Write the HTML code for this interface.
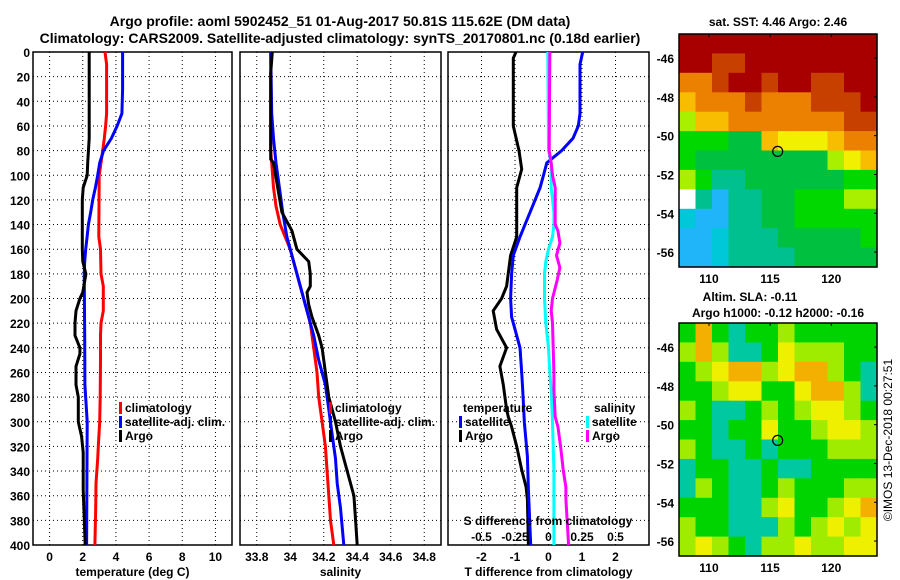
<!DOCTYPE html>
<html><head><meta charset="utf-8">
<style>
html,body{margin:0;padding:0;background:#fff;}
svg{display:block;font-family:"Liberation Sans",Arial,sans-serif;font-weight:bold;}
</style></head>
<body>
<svg id="fig" width="900" height="580" viewBox="0 0 900 580" xmlns="http://www.w3.org/2000/svg">
<rect width="900" height="580" fill="#fff"/>
<text x="340" y="26" font-size="14" text-anchor="middle">Argo profile: aoml 5902452_51 01-Aug-2017 50.81S 115.62E (DM data)</text>
<text x="340" y="43" font-size="14" text-anchor="middle">Climatology: CARS2009. Satellite-adjusted climatology: synTS_20170801.nc (0.18d earlier)</text>
<g id="panels"></g>
<g id="maps"></g>
<text transform="translate(892,440) rotate(-90)" font-size="12" font-weight="normal" text-anchor="middle">©IMOS 13-Dec-2018 00:27:51</text>
</svg>
<script>
// ---------- data ----------
const depthTicks=[0,20,40,60,80,100,120,140,160,180,200,220,240,260,280,300,320,340,360,380,400];
const tTicks=[0,2,4,6,8,10];
const sTicks=[33.8,34,34.2,34.4,34.6,34.8];
const dTTicks=[-2,-1,0,1,2];
const dSTicks=[-0.5,-0.25,0,0.25,0.5];
const dSTickLabels=["-0.5","-0.25","0","0.25","0.5"];

const tClimD=[0,10,50,60,70,80,90,100,150,160,180,190,210,220,230,250,280,300,320,330,350,370,400];
const tClimV=[3.34,3.44,3.44,3.38,3.3,3.2,3.1,2.99,2.97,3.07,3.1,3.24,3.24,3.1,3.07,3.07,3.05,3.02,2.94,2.9,2.8,2.78,2.73];
const tSatD=[0,30,50,60,70,80,90,100,110,120,130,140,150,160,170,180,230,270,300,400];
const tSatV=[4.4,4.4,4.36,4.07,3.73,3.26,3.02,2.9,2.76,2.6,2.48,2.34,2.26,2.18,2.12,2.09,2.12,2.13,2.27,2.23];
const tArgoD=[0,70,90,100,110,120,160,170,180,195,200,210,220,230,240,245,255,270,280,300,312,325,355,400];
const tArgoV=[2.39,2.39,2.3,2.27,2.03,1.97,1.97,2.0,2.19,2.0,1.83,1.59,1.53,1.53,1.83,1.83,1.59,1.59,1.73,1.73,1.93,2.03,2.03,2.15];

const sClimD=[0,80,90,110,125,140,150,160,180,200,220,240,260,280,300,320,340,360,380,400];
const sClimV=[33.883,33.883,33.889,33.9,33.915,33.94,33.97,34.0,34.04,34.08,34.12,34.14,34.16,34.17,34.19,34.21,34.22,34.23,34.24,34.26];
const sSatD=[0,50,70,90,110,130,150,170,190,210,230,250,270,290,310,330,350,370,400];
const sSatV=[33.883,33.889,33.9,33.915,33.935,33.955,33.98,34.02,34.06,34.1,34.14,34.17,34.21,34.23,34.25,34.27,34.28,34.3,34.32];
const sArgoD=[0,17,87,90,110,130,135,145,160,170,180,190,195,205,215,230,240,260,280,300,320,340,360,380,400];
const sArgoV=[33.893,33.883,33.883,33.9,33.925,33.95,33.97,34.01,34.04,34.11,34.12,34.12,34.1,34.11,34.13,34.17,34.19,34.21,34.23,34.27,34.3,34.34,34.38,34.39,34.4];

const dTArgoD=[0,5,60,80,95,110,150,165,190,200,210,225,240,255,270,290,296,304,320,339,353,363,400];
const dTArgoV=[-0.97,-1.05,-1.05,-0.88,-0.8,-0.95,-0.95,-1.13,-1.25,-1.4,-1.65,-1.55,-1.25,-1.45,-1.35,-1.25,-1.2,-1.1,-0.95,-0.8,-0.67,-0.63,-0.6];
const dTSatD=[0,10,50,60,70,80,90,100,110,120,130,140,150,165,180,200,215,225,240,260,274,301,328,355,400];
const dTSatV=[1.02,0.94,0.94,0.89,0.73,0.39,-0.05,-0.15,-0.25,-0.4,-0.55,-0.7,-0.85,-1.05,-1.1,-1.13,-1.1,-1.0,-0.85,-0.8,-0.77,-0.72,-0.63,-0.6,-0.53];
const dSSatD=[0,80,90,110,130,140,150,160,170,180,200,220,240,260,274,300,340,400];
const dSSatV=[-0.005,0.0,0.02,0.02,0.04,0.04,0.03,0.0,-0.02,-0.03,-0.03,-0.02,0.0,0.01,0.02,0.03,0.04,0.04];
const dSArgoD=[0,80,90,100,110,140,145,155,165,175,185,200,210,220,240,260,274,296,304,320,339,353,363,400];
const dSArgoV=[0.01,0.005,0.02,0.03,0.05,0.05,0.07,0.085,0.06,0.085,0.065,0.03,0.02,0.03,0.035,0.04,0.04,0.05,0.07,0.09,0.11,0.13,0.13,0.15];

// map colour grids (12 x 12 cells, palette letters)
const sstRows=["aaaaaaaaaaaa","aabbaaaaaaaa","ccbaabaabbaa","dcccbcccbbba","fddcccccccbb","ggghhdeeedcc","ghhhhhhhhfed","fgiihhhhhhgg","wikiihhgggff","jkkiihhggggg","kkjiiihhhhhg","kkjiiiihhhhh"];
const slaRows=["gogtgglggggg","lolttgylllgg","glyoolyoolgt","gglyyggyoolt","lgttglglyylg","ggtggygglyyl","lgttgtggglll","tggttgttgggg","tlgttglgggll","gggttlygglyo","lggtttlglyly","lylgtllyllyy"];

const NS="http://www.w3.org/2000/svg";
function mk(tag,attrs,parent){const e=document.createElementNS(NS,tag);for(const k in attrs)e.setAttribute(k,attrs[k]);parent.appendChild(e);return e;}
const panels=document.getElementById('panels');
const TOP=52,BOT=545;
function yD(d){return TOP+d*(BOT-TOP)/400;}

function panel(name,x0,x1,vmin,vmax,ticks,tickLabels,xlabel){
  const g=mk('g',{},panels);
  
  
  const xs=v=>x0+(v-vmin)*(x1-x0)/(vmax-vmin);
  // grid
  ticks.forEach(t=>{const l=mk('line',{x1:xs(t),x2:xs(t),y1:TOP,y2:BOT,stroke:'#000','stroke-width':1,'stroke-dasharray':'1,3'},g);
    });
  depthTicks.forEach(d=>{if(d>0&&d<400){const l=mk('line',{x1:x0,x2:x1,y1:yD(d),y2:yD(d),stroke:'#000','stroke-width':1,'stroke-dasharray':'1,3'},g);
    }});
  const fr=mk('rect',{x:x0,y:TOP,width:x1-x0,height:BOT-TOP,fill:'none',stroke:'#000','stroke-width':1.5},g);
  
  ticks.forEach((t,i)=>{const tx=mk('text',{x:xs(t),y:561,'font-size':12,'text-anchor':'middle'},g);tx.textContent=tickLabels[i];
    });
  const xl=mk('text',{x:(x0+x1)/2,y:576,'font-size':12,'text-anchor':'middle'},g);xl.textContent=xlabel;
  
  return {g,xs};
}
function series(p,D,V,color,name,xs){
  const pts=D.map((d,i)=>xs(V[i]).toFixed(1)+','+yD(d).toFixed(1)).join(' ');
  const pl=mk('polyline',{points:pts,fill:'none',stroke:color,'stroke-width':3,'stroke-linejoin':'miter'},p.g);
  
  
}
function legendItem(g,x,y,color,label,name){
  if(color){const r=mk('rect',{x:x,y:y-10,width:3,height:12,fill:color},g);
    }
  const t=mk('text',{x:x+6,y:y,'font-size':12},g);t.textContent=label;
  
}

// y tick labels (panel 1)
depthTicks.forEach(d=>{const t=mk('text',{x:30,y:yD(d)+5,'font-size':12,'text-anchor':'end'},panels);t.textContent=d;
  });

const p1=panel('temperature-panel',33,232,-1,11,tTicks,tTicks.map(String),'temperature (deg C)');
series(p1,tClimD,tClimV,'#f00','climatology-temperature-line',p1.xs);
series(p1,tSatD,tSatV,'#00f','satellite-temperature-line',p1.xs);
series(p1,tArgoD,tArgoV,'#000','argo-temperature-line',p1.xs);
legendItem(p1.g,119,412,'#f00','climatology','legend-climatology');
legendItem(p1.g,119,426,'#00f','satellite-adj. clim.','legend-satellite');
legendItem(p1.g,119,440,'#000','Argo','legend-argo');

const p2=panel('salinity-panel',240,441,33.7,34.9,sTicks,["33.8","34","34.2","34.4","34.6","34.8"],'salinity');
series(p2,sClimD,sClimV,'#f00','climatology-salinity-line',p2.xs);
series(p2,sSatD,sSatV,'#00f','satellite-salinity-line',p2.xs);
series(p2,sArgoD,sArgoV,'#000','argo-salinity-line',p2.xs);
legendItem(p2.g,329,412,'#f00','climatology','legend-climatology');
legendItem(p2.g,329,426,'#00f','satellite-adj. clim.','legend-satellite');
legendItem(p2.g,329,440,'#000','Argo','legend-argo');

const p3=panel('difference-panel',448,649,-3,3,dTTicks,dTTicks.map(String),'T difference from climatology');
const xsS=v=>448+(v+0.75)*(649-448)/1.5;
series(p3,dTArgoD,dTArgoV,'#000','argo-t-diff-line',p3.xs);
series(p3,dTSatD,dTSatV,'#00f','satellite-t-diff-line',p3.xs);
series(p3,dSSatD,dSSatV,'#0ff','satellite-s-diff-line',xsS);
series(p3,dSArgoD,dSArgoV,'#f0f','argo-s-diff-line',xsS);
legendItem(p3.g,457,412,null,'temperature','legend-temperature-header');
legendItem(p3.g,459,426,'#00f','satellite','legend-t-satellite');
legendItem(p3.g,459,440,'#000','Argo','legend-t-argo');
legendItem(p3.g,588,412,null,'salinity','legend-salinity-header');
legendItem(p3.g,586,426,'#0ff','satellite','legend-s-satellite');
legendItem(p3.g,586,440,'#f0f','Argo','legend-s-argo');
{const t=mk('text',{x:548,y:525,'font-size':12,'text-anchor':'middle'},p3.g);t.textContent='S difference from climatology';
 
 dSTicks.forEach((v,i)=>{const tt=mk('text',{x:xsS(v),y:541,'font-size':12,'text-anchor':'middle'},p3.g);tt.textContent=dSTickLabels[i];
  });}

// ---------- maps ----------
const sstPal={a:'#a80000',b:'#c84000',c:'#ec8000',d:'#f8bc00',e:'#f0f000',f:'#a8f000',g:'#00d800',h:'#00c040',i:'#00c090',j:'#00c8d8',k:'#20b4f8',w:'#ffffff'};
const slaPal={g:'#00d400',o:'#f4b000',t:'#00c8a0',l:'#a0ec00',y:'#eef000'};
const lonTicks=[110,115,120];
const latTicks=[-46,-48,-50,-52,-54,-56];
const argoLon=115.62, argoLat=-50.81;
const maps=document.getElementById('maps');
function drawMap(name,top,rows,pal){
  const g=mk('g',{},maps);
  
  
  const L=679,R=877,B=top+233;
  const lonX=v=>L+(v-107.55)*(R-L)/(123.74-107.55);
  const latY=v=>top+(-44.76-v)*(B-top)/(-44.76+56.77);
  const cw=(R-L)/12,ch=(B-top)/12;
  rows.forEach((row,r)=>{[...row].forEach((c,k)=>{
    const cell=mk('rect',{x:(L+k*cw).toFixed(1),y:(top+r*ch).toFixed(1),width:(cw+0.6).toFixed(1),height:(ch+0.6).toFixed(1),fill:pal[c]},g);
    
    
  });});
  const fr=mk('rect',{x:L,y:top,width:R-L,height:B-top,fill:'none',stroke:'#000','stroke-width':1.5},g);
  
  lonTicks.forEach(v=>{mk('line',{x1:lonX(v),x2:lonX(v),y1:top,y2:top+3,stroke:'#000'},g);
    const t=mk('text',{x:lonX(v),y:B+16,'font-size':12,'text-anchor':'middle'},g);t.textContent=v;
    });
  latTicks.forEach(v=>{mk('line',{x1:R-3,x2:R,y1:latY(v),y2:latY(v),stroke:'#000'},g);
    const t=mk('text',{x:674,y:latY(v)+5,'font-size':12,'text-anchor':'end'},g);t.textContent=v;
    });
  const c=mk('circle',{cx:lonX(argoLon),cy:latY(argoLat),r:5,fill:'none',stroke:'#000','stroke-width':1.2},g);
  
}
drawMap('sst-map',34,sstRows,sstPal);
drawMap('sla-map',323,slaRows,slaPal);
function mapTitle(x,y,txt,name){const t=mk('text',{x:x,y:y,'font-size':12,'text-anchor':'middle'},maps);t.textContent=txt;
  }
mapTitle(778,26,'sat. SST: 4.46 Argo: 2.46','sst-map-title');
mapTitle(750,301,'Altim. SLA: -0.11','sla-map-title');
mapTitle(778,317,'Argo h1000: -0.12 h2000: -0.16','argo-height-title');
</script>
</body></html>
